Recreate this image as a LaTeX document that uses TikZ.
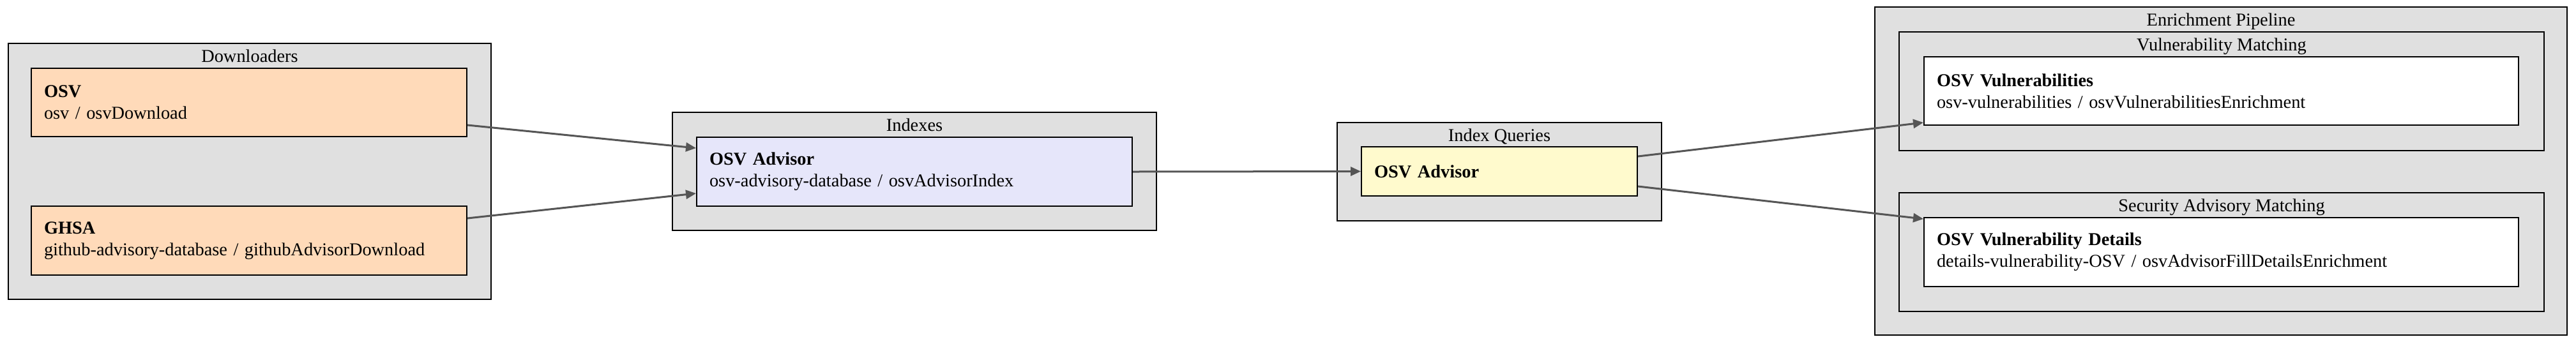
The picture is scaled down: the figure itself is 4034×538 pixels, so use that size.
\documentclass[tikz,border=0pt]{standalone}
\usepackage{fontspec}
\setmainfont{Liberation Serif}
\usetikzlibrary{arrows.meta,calc}
\definecolor{clfill}{HTML}{E0E0E0}
\definecolor{peach}{HTML}{FFDAB9}
\definecolor{lav}{HTML}{E6E6FA}
\definecolor{lemon}{HTML}{FFFACD}
\definecolor{edgegray}{HTML}{555555}
\begin{document}
\begin{tikzpicture}[x=0.5pt,y=-0.5pt,
  every node/.style={font=\fontsize{14.2}{17}\selectfont},
  cluster/.style={draw=black, fill=clfill, line width=1pt, inner sep=0pt, rectangle},
  ctitle/.style={anchor=base, inner sep=0pt},
  box/.style={draw=black, line width=1pt, rectangle, inner xsep=10pt, inner ysep=0pt, align=left},
  flow/.style={draw=edgegray, line width=1.5pt, -{Triangle[length=8pt,width=7pt]}}
]
\useasboundingbox (0,0) rectangle (4034,538);

% clusters
\node[cluster, minimum width=378pt, minimum height=200.5pt] (cDown) at (391,268.5) {};
\node[cluster, minimum width=379pt, minimum height=92.5pt] (cIdx) at (1432,268.5) {};
\node[cluster, minimum width=254pt, minimum height=77pt] (cQry) at (2348,269) {};
\node[cluster, minimum width=542pt, minimum height=257pt] (cEnr) at (3478,268) {};
\node[cluster, minimum width=505pt, minimum height=93pt] (cVuln) at (3479,143) {};
\node[cluster, minimum width=505pt, minimum height=93pt] (cSec) at (3479,395) {};

% cluster titles
\node[ctitle] (tDown) at (391,97) {Downloaders};
\node[ctitle] (tIdx) at (1432,205) {Indexes};
\node[ctitle] (tQry) at (2348,221) {Index Queries};
\node[ctitle] (tEnr) at (3478,40) {Enrichment Pipeline};
\node[ctitle] (tVuln) at (3479,79) {Vulnerability Matching};
\node[ctitle] (tSec) at (3479,331) {Security Advisory Matching};

% nodes
\node[box, fill=peach, text width=321pt, minimum height=53.5pt] (osv) at (390,160.5)
  {\textbf{OSV}\\osv / osvDownload};
\node[box, fill=peach, text width=321pt, minimum height=54pt] (ghsa) at (390,377)
  {\textbf{GHSA}\\github-advisory-database / githubAdvisorDownload};
\node[box, fill=lav, text width=321pt, minimum height=54pt] (idx) at (1432,269)
  {\textbf{OSV Advisor}\\osv-advisory-database / osvAdvisorIndex};
\node[box, fill=lemon, text width=196pt, minimum height=38.5pt] (qry) at (2348,268.5)
  {\textbf{OSV Advisor}};
\node[box, fill=white, text width=445.5pt, minimum height=53.5pt] (vuln) at (3478.5,142.5)
  {\textbf{OSV Vulnerabilities}\\osv-vulnerabilities / osvVulnerabilitiesEnrichment};
\node[box, fill=white, text width=445.5pt, minimum height=54pt] (det) at (3478.5,395)
  {\textbf{OSV Vulnerability Details}\\details-vulnerability-OSV / osvAdvisorFillDetailsEnrichment};

% edges
\draw[flow] ($(osv.east)+(0,35.5)$) -- ($(idx.west)+(0,-37)$);
\draw[flow] ($(ghsa.east)+(0,-35)$) -- ($(idx.west)+(0,34)$);
\draw[flow] (idx.east) -- (qry.west);
\draw[flow] ($(qry.east)+(0,-23.5)$) -- ($(vuln.west)+(0,49.5)$);
\draw[flow] ($(qry.east)+(0,23.5)$) -- ($(det.west)+(0,-52)$);
\end{tikzpicture}
\end{document}
